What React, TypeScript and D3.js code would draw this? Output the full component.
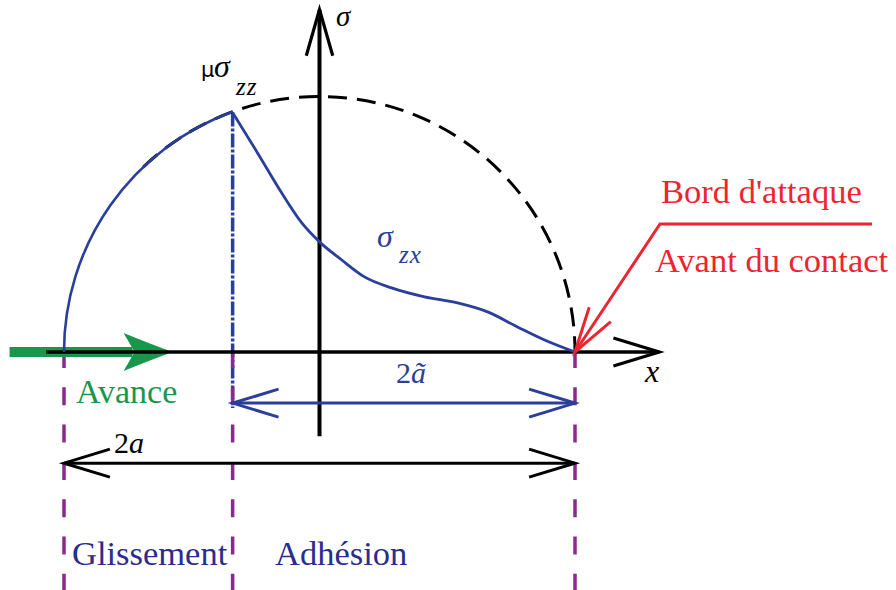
import React from 'react';
import * as d3 from 'd3';

// positions along the contact, in units of a (half contact width)
const CONTACT_EDGES = [-1, 1];
const SLIP_BOUNDARY = -0.34;

// tangential stress sigma_zx in the adhesion zone (normalised by p0)
const TAU_X = [-0.34, -0.243, -0.149, -0.07, 0, 0.086, 0.176, 0.282, 0.411, 0.54, 0.658, 0.775, 0.881, 1];
const TAU_Y = [0.937, 0.78, 0.624, 0.506, 0.431, 0.361, 0.294, 0.251, 0.216, 0.192, 0.157, 0.098, 0.047, 0];

const W = 896;
const H = 590;

const BLACK = '#000';
const BLUE = '#2a3f9b';
const NAVY = '#2b2d8c';
const PURPLE = '#8a2a8e';
const GREEN = '#17964c';
const RED = '#ee2530';

const SERIF = '"Liberation Serif", "Times New Roman", serif';

// open (LaTeX style) arrow head: two wings going back from the tip
function wings(tx: number, ty: number, dx: number, dy: number, len = 48, half = 17) {
  const a = Math.atan2(dy, dx);
  const h = (half * Math.PI) / 180;
  const p1 = [tx - len * Math.cos(a - h), ty - len * Math.sin(a - h)];
  const p2 = [tx - len * Math.cos(a + h), ty - len * Math.sin(a + h)];
  return `M${p1[0]},${p1[1]}L${tx},${ty}L${p2[0]},${p2[1]}`;
}

export default function App() {
  const x = d3.scaleLinear().domain([-1, 1]).range([64, 575]);
  const y = d3.scaleLinear().domain([0, 1]).range([352, 96.5]);

  const cx = x(0);
  const cy = y(0);
  const r = x(1) - x(0);
  const ang = (v: number) => 2 * Math.PI - Math.acos(v);

  // Hertz pressure (dashed) and mu*sigma_zz in the slip zone
  const hertz = d3.path();
  hertz.arc(cx, cy, r, ang(-0.69), ang(CONTACT_EDGES[1]));
  const slip = d3.path();
  slip.arc(cx, cy, r, ang(CONTACT_EDGES[0]), ang(SLIP_BOUNDARY));

  const tauLine = d3
    .line<number>()
    .x((_, i) => x(TAU_X[i]))
    .y((d) => y(d))
    .curve(d3.curveMonotoneX)(TAU_Y) as string;

  const xL = x(CONTACT_EDGES[0]);
  const xR = x(CONTACT_EDGES[1]);
  const xS = x(SLIP_BOUNDARY);
  const peakY = y(TAU_Y[0]);

  const axisL = x(-1.07);
  const axisR = x(1.33);
  const sigTop = y(1.34);
  const sigBot = y(-0.33);

  const dimA = y(-0.2); // 2ã
  const dim2a = y(-0.435); // 2a

  // green "Avance" arrow
  const gTail = x(-1.213);
  const gTip = x(-0.575);

  // red leader to the leading edge
  const redEnd = 872;
  const redKnee = [660, 224];

  return (
    <svg
      width={W}
      height={H}
      style={{ position: 'absolute', left: 0, top: 0, background: '#fff' }}
    >
      {/* blue dash-dot at slip boundary */}
      <line x1={xS} x2={xS} y1={peakY} y2={408} stroke={BLUE} strokeWidth={3.5} strokeDasharray="14 2 3 2" />

      {/* purple dashed verticals */}
      {[xL, xS, xR].map((v, i) => (
        <line key={i} x1={v} x2={v} y1={350} y2={H} stroke={PURPLE} strokeWidth={3.5} strokeDasharray="18 19.3" />
      ))}

      {/* green advance arrow */}
      <line x1={gTail} x2={gTip - 40} y1={cy} y2={cy} stroke={GREEN} strokeWidth={10} />
      <path
        d={`M${gTip},${cy}Q${gTip - 22},${cy - 8} ${gTip - 49},${cy - 19}L${gTip - 38},${cy}L${gTip - 49},${cy + 19}Q${gTip - 22},${cy + 8} ${gTip},${cy}Z`}
        fill={GREEN}
      />

      {/* axes */}
      <line x1={axisL} x2={axisR} y1={cy} y2={cy} stroke={BLACK} strokeWidth={3.5} />
      <path d={wings(axisR, cy, 1, 0)} fill="none" stroke={BLACK} strokeWidth={3.2} />
      <line x1={cx} x2={cx} y1={sigBot} y2={sigTop} stroke={BLACK} strokeWidth={4} />
      <path d={wings(cx, sigTop, 0, -1, 48, 16)} fill="none" stroke={BLACK} strokeWidth={3.2} />

      {/* curves */}
      <path d={hertz.toString()} fill="none" stroke={BLACK} strokeWidth={3} strokeDasharray="19 10" />
      <path d={slip.toString()} fill="none" stroke={BLUE} strokeWidth={2.6} />
      <path d={tauLine} fill="none" stroke={BLUE} strokeWidth={2.8} />

      {/* 2ã dimension */}
      <line x1={xS} x2={xR} y1={dimA} y2={dimA} stroke={BLUE} strokeWidth={3} />
      <path d={wings(xS, dimA, -1, 0)} fill="none" stroke={BLUE} strokeWidth={3} />
      <path d={wings(xR, dimA, 1, 0)} fill="none" stroke={BLUE} strokeWidth={3} />

      {/* 2a dimension */}
      <line x1={xL} x2={xR} y1={dim2a} y2={dim2a} stroke={BLACK} strokeWidth={3} />
      <path d={wings(xL, dim2a, -1, 0)} fill="none" stroke={BLACK} strokeWidth={3} />
      <path d={wings(xR, dim2a, 1, 0)} fill="none" stroke={BLACK} strokeWidth={3} />

      {/* red leader */}
      <path
        d={`M${redEnd},${redKnee[1]}L${redKnee[0]},${redKnee[1]}L${xR},${cy}`}
        fill="none"
        stroke={RED}
        strokeWidth={3}
      />
      <path d={wings(xR, cy, xR - redKnee[0], cy - redKnee[1], 47, 16)} fill="none" stroke={RED} strokeWidth={3} />

      {/* labels */}
      <text x={336} y={26} fontFamily={SERIF} fontStyle="italic" fontSize={29} fill={BLACK}>σ</text>
      <text x={645} y={382} fontFamily={SERIF} fontStyle="italic" fontSize={32} fill={BLACK}>x</text>

      <text x={201} y={77} fontFamily='"DejaVu Sans", sans-serif' fontSize={21} fill={BLACK}>μ</text>
      <text x={214} y={77} fontFamily={SERIF} fontStyle="italic" fontSize={32} fill={BLACK}>σ</text>
      <text x={236} y={95} fontFamily={SERIF} fontStyle="italic" fontSize={25} fill={BLACK} letterSpacing={1}>zz</text>

      <text x={377} y={247} fontFamily={SERIF} fontStyle="italic" fontSize={32} fill={BLUE}>σ</text>
      <text x={399} y={263} fontFamily={SERIF} fontStyle="italic" fontSize={25} fill={BLUE} letterSpacing={1}>zx</text>

      <text x={396} y={383} fontFamily={SERIF} fontSize={30} fill={BLUE}>
        2<tspan fontStyle="italic">ã</tspan>
      </text>
      <text x={114} y={453} fontFamily={SERIF} fontSize={30} fill={BLACK}>
        2<tspan fontStyle="italic">a</tspan>
      </text>

      <text x={76} y={403} fontFamily={SERIF} fontSize={34} fill={GREEN}>Avance</text>
      <text x={72} y={565} fontFamily={SERIF} fontSize={34.5} fill={NAVY}>Glissement</text>
      <text x={275} y={565} fontFamily={SERIF} fontSize={34.5} fill={NAVY}>Adhésion</text>

      <text x={661} y={203} fontFamily={SERIF} fontSize={34.5} fill={RED}>Bord d'attaque</text>
      <text x={655} y={272} fontFamily={SERIF} fontSize={34.5} fill={RED}>Avant du contact</text>
    </svg>
  );
}
